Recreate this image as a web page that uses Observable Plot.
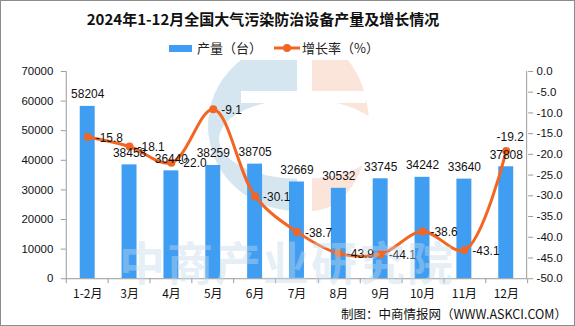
<!DOCTYPE html>
<html><head><meta charset="utf-8">
<script src="https://cdn.jsdelivr.net/npm/d3@7"></script>
<script src="https://cdn.jsdelivr.net/npm/@observablehq/plot@0.6"></script>
<style>
body{margin:0;background:#fff;}
#wrap{position:relative;width:575px;height:326px;box-sizing:border-box;border:1px solid #8c8c8c;overflow:hidden;font-family:"Noto Sans CJK SC",sans-serif;background:#fff;}
#title{position:absolute;left:0;width:524px;top:7px;text-align:center;font-weight:bold;font-size:15px;color:#111;}
.leg{position:absolute;top:38px;font-size:13px;color:#222;line-height:18px;}
#chart{position:absolute;left:0;top:58px;z-index:1;}
#logo{position:absolute;left:0;top:0;z-index:0;}
#wm{position:absolute;left:118px;top:226px;z-index:2;font-size:46px;font-weight:bold;color:rgba(195,218,234,0.42);letter-spacing:2px;pointer-events:none;}
#caption{position:absolute;left:340px;top:303px;font-size:12.5px;color:#111;}
</style></head>
<body>
<div id="wrap">
  <svg id="logo" width="575" height="326">
    <defs>
      <clipPath id="cl"><rect x="0" y="59" width="296" height="267"/></clipPath>
      <clipPath id="cr"><rect x="311" y="59" width="264" height="267"/></clipPath>
      <mask id="mk"><rect x="0" y="0" width="575" height="326" fill="#fff"/><rect x="240" y="90" width="125" height="12" fill="#000"/><ellipse cx="300" cy="138" rx="82" ry="40" fill="#000"/></mask>
    </defs>
    <g mask="url(#mk)">
      <ellipse cx="296" cy="125" rx="89" ry="85" fill="#d6e6f0" clip-path="url(#cl)"/>
      <ellipse cx="311" cy="125" rx="57" ry="85" fill="#fbe4da" clip-path="url(#cr)"/>
    </g>
  </svg>
  <div id="title">2024年1-12月全国大气污染防治设备产量及增长情况</div>
  <div class="leg" style="left:168px;"><span style="display:inline-block;width:23px;height:7px;background:#409ef2;vertical-align:middle;margin-right:5px;position:relative;top:-1px;"></span>产量（台）</div>
  <div class="leg" style="left:273px;"><svg width="26" height="10" style="vertical-align:middle;margin-right:2px;position:relative;top:-1px;"><line x1="0" y1="5" x2="26" y2="5" stroke="#f26522" stroke-width="3"/><circle cx="13" cy="5" r="4" fill="#f26522"/></svg>增长率（%）</div>
  <div id="chart"></div>
  <div id="wm">中商产业研究院</div>
  <div id="caption">制图：中商情报网（WWW.ASKCI.COM）</div>
</div>
<script>
const months = ["1-2月","3月","4月","5月","6月","7月","8月","9月","10月","11月","12月"];
const output = [58204,38458,36440,38259,38705,32669,30532,33745,34242,33640,37808];
const growth = [-15.8,-18.1,-22.0,-9.1,-30.1,-38.7,-43.9,-44.1,-38.6,-43.1,-19.2];
const leftTicks = [0,10000,20000,30000,40000,50000,60000,70000];
const rightTicks = [0,-5,-10,-15,-20,-25,-30,-35,-40,-45,-50];

const yMax = 70000, gMin = -50, gMax = 0;
const toY = g => (g - gMin) / (gMax - gMin) * yMax;
const fromY = v => v / yMax * (gMax - gMin) + gMin;

const rows = months.map((m, i) => ({month: m, output: output[i], growth: growth[i], gy: toY(growth[i])}));
const orange = "#f26522", blue = "#409ef2";
const numFont = "Liberation Sans";

const plot = Plot.plot({
  width: 575, height: 245,
  marginTop: 12, marginBottom: 25, marginLeft: 65, marginRight: 47,
  style: {background: "transparent", fontFamily: numFont, fontSize: "11px", color: "#111"},
  x: {domain: months, paddingInner: 0.64, paddingOuter: 0.32, label: null},
  y: {domain: [0, yMax], label: null},
  marks: [
    Plot.barY(rows, {x: "month", y: "output", fill: blue}),
    Plot.ruleY([0], {stroke: "#9a9a9a"}),
    Plot.axisY(leftTicks, {anchor: "left", tickSize: 5, tickPadding: 8, stroke: "#9a9a9a", fill: "#111", tickFormat: d => String(d), label: null, fontSize: 11.5}),
    Plot.axisY(rightTicks.map(toY), {anchor: "right", tickSize: 5, tickPadding: 4, stroke: "#9a9a9a", fill: "#111", tickFormat: v => fromY(v).toFixed(1), label: null, fontSize: 11.5}),
    Plot.axisX({tickSize: 0, tickPadding: 11, label: null, fontFamily: "Noto Sans CJK SC", fontSize: 12, fill: "#111"}),
    Plot.line(rows, {x: "month", y: "gy", curve: "catmull-rom", stroke: orange, strokeWidth: 3}),
    Plot.dot(rows, {x: "month", y: "gy", r: 4, fill: orange, stroke: "none"}),
    Plot.text(rows, {x: "month", y: "output", text: d => String(d.output), dy: -12, fontSize: 12, fill: "#111"}),
    Plot.text(rows.slice(0, -1), {x: "month", y: "gy", text: d => d.growth.toFixed(1), textAnchor: "start", dx: 8, dy: 1, fontSize: 12, fill: "#111"}),
    Plot.text(rows.slice(-1), {x: "month", y: "gy", text: d => d.growth.toFixed(1), dy: -14, dx: 4, fontSize: 12, fill: "#111"})
  ]
});
document.getElementById("chart").appendChild(plot);

// axis lines and x boundary ticks, positioned from the plot's own scales
const xs = plot.scale("x"), ys = plot.scale("y");
const svg = d3.select(plot);
const x0 = xs.range[0], x1 = xs.range[1];
const step = (x1 - x0) / months.length;
const yTop = ys.apply(yMax), yBot = ys.apply(0);
const g = svg.append("g").attr("stroke", "#9a9a9a").attr("stroke-width", 1);
g.append("line").attr("x1", x0 + 0.5).attr("x2", x0 + 0.5).attr("y1", yTop).attr("y2", yBot);
g.append("line").attr("x1", x1 - 0.5).attr("x2", x1 - 0.5).attr("y1", yTop).attr("y2", yBot);
for (let k = 0; k <= months.length; k++) {
  const x = Math.round(x0 + k * step) + 0.5;
  g.append("line").attr("x1", x).attr("x2", x).attr("y1", yBot).attr("y2", yBot + 5);
}
</script>
</body></html>
